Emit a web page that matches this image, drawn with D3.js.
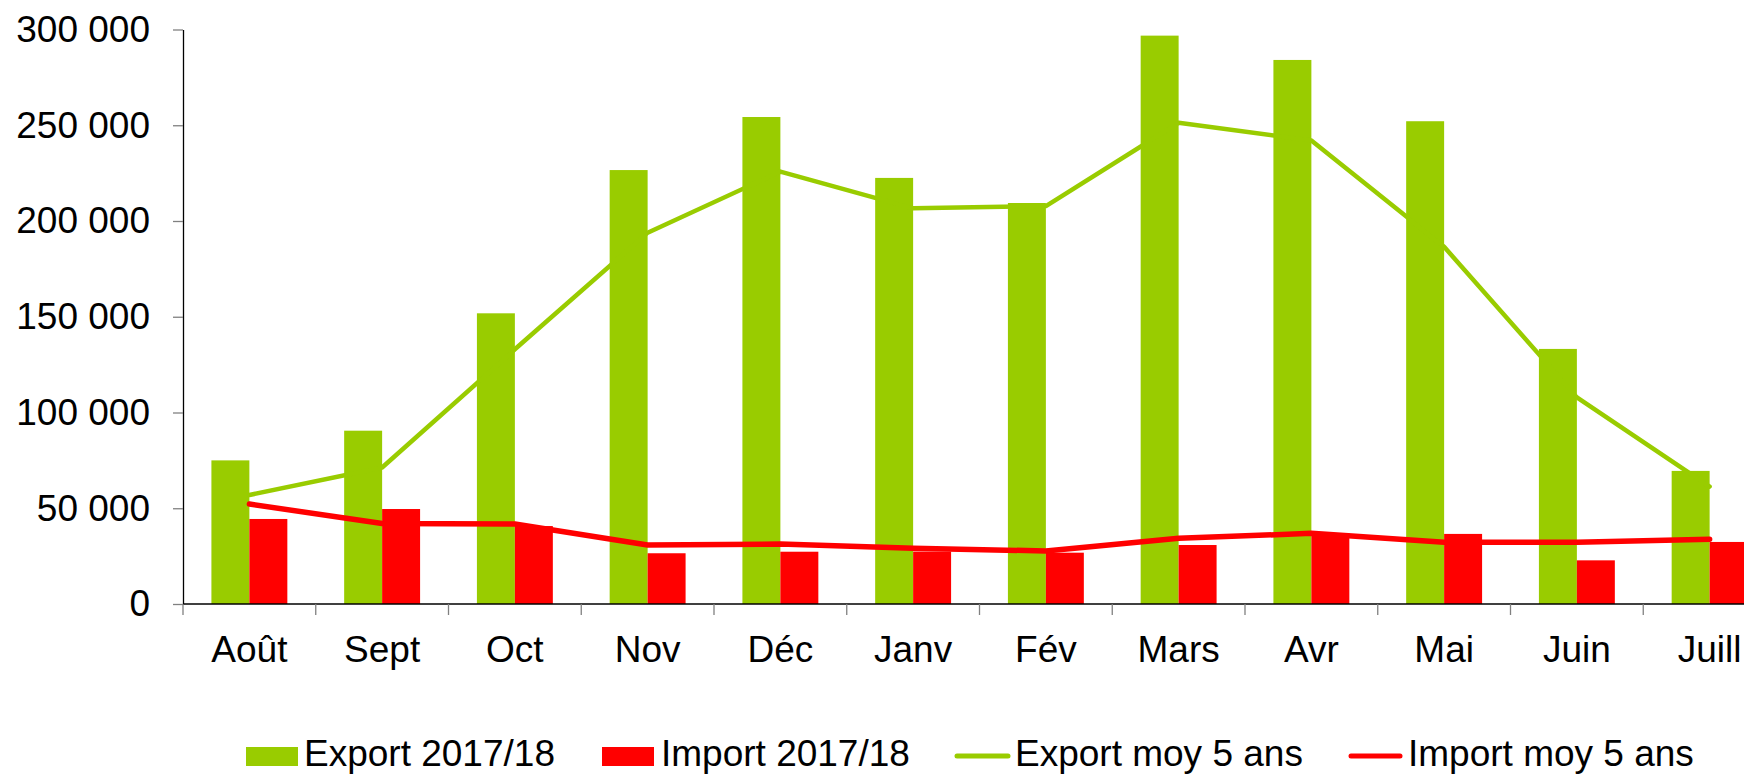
<!DOCTYPE html>
<html>
<head>
<meta charset="utf-8">
<script src="https://cdn.jsdelivr.net/npm/d3@7"></script>
<style>
  html, body { margin: 0; padding: 0; background: #fff; }
  svg { display: block; font-family: "Liberation Sans", Arial, sans-serif; }
</style>
</head>
<body>
<div id="chart"></div>
<script>
const months = ['Août', 'Sept', 'Oct', 'Nov', 'Déc', 'Janv', 'Fév', 'Mars', 'Avr', 'Mai', 'Juin', 'Juill'];
const export1718 = [75000, 90500, 151800, 226600, 254300, 222500, 209400, 296800, 284100, 252100, 133200, 69500];
const import1718 = [44400, 49600, 40700, 26500, 27300, 27400, 26800, 30800, 37000, 36600, 22800, 32400];
const exportAvg5 = [56900, 71300, 133000, 193900, 225800, 206600, 207800, 251300, 242000, 186500, 107900, 61300];
const importAvg5 = [52200, 42000, 41800, 30800, 31300, 29100, 27700, 34300, 36900, 32200, 32200, 33800];
const yTicks = [0, 50000, 100000, 150000, 200000, 250000, 300000];

const green = '#99cc00';
const red = '#ff0000';

const width = 1744, height = 774;
const plotLeft = 183, plotBottom = 604, plotTop = 29.5;
const step = 132.75;

const svg = d3.select('#chart')
  .append('svg')
  .attr('width', width)
  .attr('height', height);

const x = d3.scaleBand()
  .domain(months)
  .range([plotLeft, plotLeft + step * months.length])
  .paddingInner(0.428)
  .paddingOuter(0.214);

const xSub = d3.scaleBand()
  .domain(['export', 'import'])
  .range([0, x.bandwidth()]);

const y = d3.scaleLinear()
  .domain([0, 300000])
  .range([plotBottom, plotTop]);

const fr = d3.formatLocale({ decimal: ',', thousands: ' ', grouping: [3], currency: ['', ''] });

// bars
const rows = months.map((m, i) => ({ m, exp: export1718[i], imp: import1718[i] }));

svg.append('g').selectAll('rect')
  .data(rows)
  .enter()
  .append('rect')
  .attr('x', d => x(d.m) + xSub('export'))
  .attr('y', d => y(d.exp))
  .attr('width', xSub.bandwidth())
  .attr('height', d => plotBottom - y(d.exp))
  .style('fill', green);

svg.append('g').selectAll('rect')
  .data(rows)
  .enter()
  .append('rect')
  .attr('x', d => x(d.m) + xSub('import'))
  .attr('y', d => y(d.imp))
  .attr('width', xSub.bandwidth())
  .attr('height', d => plotBottom - y(d.imp))
  .style('fill', red);

// 5-year average lines
const line = d3.line()
  .x((d, i) => x(months[i]) + x.bandwidth() / 2)
  .y(d => y(d));

svg.append('path')
  .attr('d', line(exportAvg5))
  .style('fill', 'none')
  .style('stroke', green)
  .style('stroke-width', 4.5)
  .style('stroke-linejoin', 'round')
  .style('stroke-linecap', 'round');

svg.append('path')
  .attr('d', line(importAvg5))
  .style('fill', 'none')
  .style('stroke', red)
  .style('stroke-width', 5.5)
  .style('stroke-linejoin', 'round')
  .style('stroke-linecap', 'round');

// y axis
const yAxis = svg.append('g')
  .attr('transform', `translate(${plotLeft},0)`)
  .call(d3.axisLeft(y)
    .tickValues(yTicks)
    .tickFormat(fr.format(','))
    .tickSize(10)
    .tickPadding(23)
    .tickSizeOuter(0));
yAxis.select('.domain').attr('stroke', '#000').attr('stroke-width', 1.3);
yAxis.selectAll('.tick line').attr('stroke', '#808080').attr('stroke-width', 1.3);
yAxis.selectAll('.tick text')
  .style('font-size', '37px')
  .style('fill', '#000')
  .style('font-family', '"Liberation Sans", Arial, sans-serif');

// x axis
svg.append('line')
  .attr('x1', plotLeft).attr('x2', width)
  .attr('y1', plotBottom).attr('y2', plotBottom)
  .style('stroke', '#000')
  .style('stroke-width', 1.3);

svg.append('g').selectAll('line')
  .data(d3.range(months.length + 1))
  .enter()
  .append('line')
  .attr('x1', i => x.range()[0] + i * x.step())
  .attr('x2', i => x.range()[0] + i * x.step())
  .attr('y1', plotBottom)
  .attr('y2', plotBottom + 11)
  .style('stroke', '#808080')
  .style('stroke-width', 1.3);

svg.append('g').selectAll('text')
  .data(months)
  .enter()
  .append('text')
  .attr('x', d => x(d) + x.bandwidth() / 2)
  .attr('y', 662)
  .attr('text-anchor', 'middle')
  .style('font-size', '37px')
  .text(d => d);

// legend
const legend = [
  { label: 'Export 2017/18', color: green, type: 'rect', x0: 246, x1: 298, tx: 304 },
  { label: 'Import 2017/18', color: red, type: 'rect', x0: 602, x1: 654, tx: 661 },
  { label: 'Export moy 5 ans', color: green, type: 'line', x0: 957, x1: 1008, tx: 1015 },
  { label: 'Import moy 5 ans', color: red, type: 'line', x0: 1351, x1: 1400, tx: 1408 }
];

const lg = svg.append('g').selectAll('g')
  .data(legend)
  .enter()
  .append('g');

lg.filter(d => d.type === 'rect')
  .append('rect')
  .attr('x', d => d.x0)
  .attr('y', 747)
  .attr('width', d => d.x1 - d.x0)
  .attr('height', 19)
  .style('fill', d => d.color);

lg.filter(d => d.type === 'line')
  .append('line')
  .attr('x1', d => d.x0)
  .attr('x2', d => d.x1)
  .attr('y1', 756)
  .attr('y2', 756)
  .style('stroke', d => d.color)
  .style('stroke-width', 5)
  .style('stroke-linecap', 'round');

lg.append('text')
  .attr('x', d => d.tx)
  .attr('y', 766)
  .style('font-size', '37px')
  .text(d => d.label);
</script>
</body>
</html>
